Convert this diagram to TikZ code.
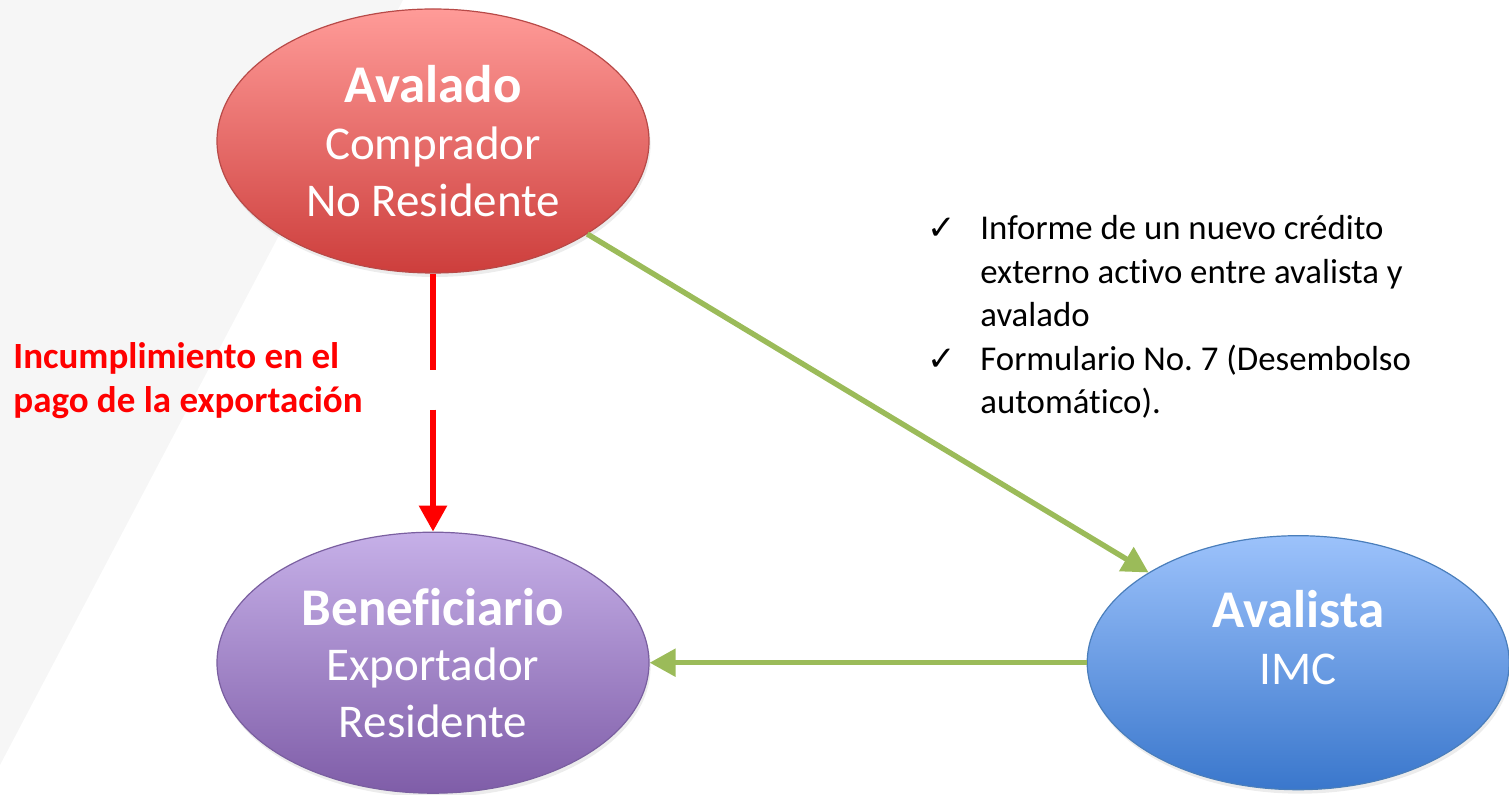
\documentclass[tikz,border=0pt]{standalone}
\usepackage{fontspec}
\setmainfont{Carlito}[Ligatures=NoCommon]
\newfontfamily\symfont{DejaVu Sans}
\usetikzlibrary{arrows.meta, positioning, shapes.geometric, shadows}

\definecolor{avaladotop}{RGB}{255,155,152}
\definecolor{avaladobot}{RGB}{205,62,60}
\definecolor{avaladoline}{RGB}{184,74,72}
\definecolor{benefitop}{RGB}{198,176,232}
\definecolor{benefibot}{RGB}{127,93,168}
\definecolor{benefiline}{RGB}{122,95,160}
\definecolor{avalistatop}{RGB}{156,194,251}
\definecolor{avalistabot}{RGB}{58,119,204}
\definecolor{avalistaline}{RGB}{74,126,187}
\definecolor{flowgreen}{RGB}{155,187,89}
\definecolor{bggray}{RGB}{246,246,246}

\newcommand{\chk}{{\symfont\fontsize{17}{17}\selectfont\char"2713}}
\newcommand{\partyname}[1]{{\bfseries\fontsize{26.5}{28.5}\selectfont #1}}
\frenchspacing

\begin{document}
\begin{tikzpicture}[
    x=0.5pt, y=-0.5pt,
    party/.style={
      ellipse,
      draw,
      line width=0.6pt,
      align=center,
      inner sep=0pt,
      text=white,
      font=\fontsize{23.5}{28.5}\selectfont,
      drop shadow={shadow xshift=0.8pt, shadow yshift=-2pt, opacity=0.15}
    },
    flow/.style={
      draw=flowgreen,
      line width=2.7pt,
      -{Triangle[width=13.5pt, length=13pt]}
    },
    failflow/.style={
      draw=red,
      line width=2.9pt,
      dash pattern=on 48pt off 20pt on 200pt,
      -{Triangle[width=13.5pt, length=13pt]}
    },
    note/.style={
      align=left,
      inner sep=0pt,
      anchor=north west
    }
  ]

    \useasboundingbox (0,0) rectangle (1509,795);

    % light band behind the left side
    \fill[bggray] (0,0) -- (403,0) -- (0,765) -- cycle;

    % the three parties
    \node (avalado) [party, top color=avaladotop, bottom color=avaladobot,
      draw=avaladoline, minimum width=216pt, minimum height=132pt]
      at (433,141) {\partyname{Avalado}\\Comprador\\No Residente};
    \node (benef) [party, top color=benefitop, bottom color=benefibot,
      draw=benefiline, minimum width=216pt, minimum height=130.5pt,
      below=129pt of avalado] {\partyname{Beneficiario}\\[-1pt]Exportador\\Residente};
    \node (avalista) [party, top color=avalistatop, bottom color=avalistabot,
      draw=avalistaline, minimum width=211pt, minimum height=127pt,
      text depth=25pt, right=218.5pt of benef] {\partyname{Avalista}\\IMC};

    % texts
    \node (impago) [note, text=red, font=\bfseries\fontsize{18.5}{22}\selectfont]
      at (13,342) {Incumplimiento en el\\pago de la exportación};
    \node (checks) [note, font=\fontsize{17.4}{21.75}\selectfont]
      at (980,215) {\llap{\chk\hspace{12pt}}Informe de un nuevo crédito\\
        externo activo entre avalista y\\
        avalado\\
        \llap{\chk\hspace{12pt}}Formulario No. 7 (Desembolso\\
        automático).};

    % edges
    \draw[failflow] (avalado) -- (benef);
    \draw[flow] (avalado) -- (avalista);
    \draw[flow] (avalista) -- (benef);

  \end{tikzpicture}
\end{document}
